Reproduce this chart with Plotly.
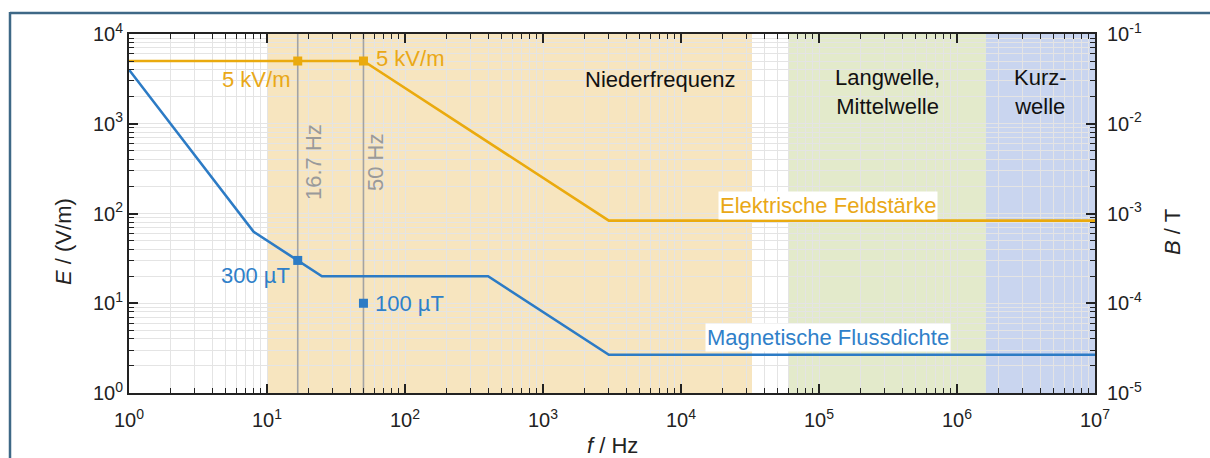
import plotly.graph_objects as go

# ---------------- data ----------------
freq_E = [1, 50, 3000, 1e7]                 # Hz
E_vals = [5000, 5000, 83.3, 83.3]           # V/m
freq_B = [1, 8, 25, 400, 3000, 1e7]         # Hz
B_vals = [4e-2, 6.25e-4, 2e-4, 2e-4, 2.67e-5, 2.67e-5]  # T
mark_freq = [16.7, 50]
mark_E = [5000, 5000]                       # V/m
mark_B = [3e-4, 1e-4]                       # T
ref_freqs = [16.7, 50]
ref_labels = ["16.7 Hz", "50 Hz"]
band_names = ["Niederfrequenz", "Langwelle,<br>Mittelwelle", "Kurz-<br>welle"]
band_start = [10, 6e4, 1.62e6]
band_end = [3.27e4, 1.62e6, 1e7]
E_range = [1, 1e4]
x_exps = [0, 1, 2, 3, 4, 5, 6, 7]
yE_exps = [0, 1, 2, 3, 4]
yB_exps = [-5, -4, -3, -2, -1]

# ---------------- style ----------------
W, H = 1210, 458
L, R, T, B = 129, 1095, 34, 393
FONT = "Liberation Sans, Arial, sans-serif"
ORANGE = "#EAAA0E"
ORANGE_T = "#E9A817"
BLUE = "#2C7BC5"
BLUE_T = "#2F80C9"
GRAY = "#A3A3A3"
GRAY_T = "#9A9A9A"
AX = "#222222"
GRID = "#E4E4E4"
band_colors = ["#F7E5BF", "#E3EACB", "#C9D5EF"]
TXT = 22


def px(x):
    return (x - L) / (R - L)


def py(y):
    return (B - y) / (B - T)


def minor_vals(exps):
    out = []
    for e in exps[:-1]:
        for m in range(2, 10):
            out.append(m * 10.0 ** e)
    return out


fig = go.Figure()

# reference frequency lines
for f in ref_freqs:
    fig.add_trace(go.Scatter(x=[f, f], y=E_range, mode="lines",
                             line=dict(color=GRAY, width=1.6),
                             hoverinfo="skip", showlegend=False))

# electric field limit
fig.add_trace(go.Scatter(x=freq_E, y=E_vals, mode="lines",
                         line=dict(color=ORANGE, width=2.6), showlegend=False))
# magnetic flux density limit (right axis, T)
fig.add_trace(go.Scatter(x=freq_B, y=B_vals, mode="lines", yaxis="y2",
                         line=dict(color=BLUE, width=2.6), showlegend=False))
# markers
fig.add_trace(go.Scatter(x=mark_freq, y=mark_E, mode="markers",
                         marker=dict(symbol="square", size=9, color=ORANGE),
                         showlegend=False))
fig.add_trace(go.Scatter(x=mark_freq, y=mark_B, mode="markers", yaxis="y2",
                         marker=dict(symbol="square", size=9, color=BLUE),
                         showlegend=False))

# frequency bands
for x0, x1, c in zip(band_start, band_end, band_colors):
    fig.add_shape(type="rect", xref="x", yref="paper", x0=x0, x1=x1, y0=0, y1=1,
                  fillcolor=c, line=dict(width=0), layer="below")

# outer frame (top and left)
FR = "#3E6886"
fig.add_shape(type="line", xref="paper", yref="paper", x0=px(10), x1=px(1212),
              y0=py(13), y1=py(13), line=dict(color=FR, width=2.5))
fig.add_shape(type="line", xref="paper", yref="paper", x0=px(10), x1=px(10),
              y0=py(12), y1=py(460), line=dict(color=FR, width=2.5))

ann = []


def add(text, x, y, color, size=TXT, xa="center", angle=0, bg=None):
    d = dict(text=text, x=px(x), y=py(y), xref="paper", yref="paper",
             showarrow=False, xanchor=xa, yanchor="middle", textangle=angle,
             font=dict(family=FONT, size=size, color=color))
    if bg:
        d["bgcolor"] = bg
    ann.append(d)


add("5 kV/m", 292, 80, ORANGE_T, xa="right")
add("5 kV/m", 374, 58, ORANGE_T, xa="left")
add(ref_labels[0], 313, 162, GRAY_T, angle=-90)
add(ref_labels[1], 375, 163, GRAY_T, angle=-90)
add("300 µT", 292, 275, BLUE_T, xa="right")
add("100 µT", 373, 303, BLUE_T, xa="left")
add(band_names[0], 660, 79, "#111111")
add(band_names[1], 887, 92, "#111111")
add(band_names[2], 1040, 92, "#111111")
add("Elektrische Feldstärke", 828, 205, ORANGE_T, bg="white")
add("Magnetische Flussdichte", 828, 337, BLUE_T, bg="white")
add("<i>f</i> / Hz", 612, 445, AX)
add("<i>E</i> / (V/m)", 63, 242, AX, angle=-90)
add("<i>B</i> / T", 1172, 232, AX, angle=-90)

tickfont = dict(family=FONT, size=20, color=AX)

fig.update_layout(
    width=W, height=H,
    margin=dict(l=L, r=W - R, t=T, b=H - B, pad=0),
    paper_bgcolor="white", plot_bgcolor="white",
    showlegend=False,
    annotations=ann,
    xaxis=dict(type="log", range=[0, 7],
               tickmode="array", tickvals=[10.0 ** e for e in x_exps],
               ticktext=["10<sup>%d</sup>" % e for e in x_exps],
               ticks="inside", ticklen=9, tickwidth=1.6, tickcolor=AX,
               showline=True, linecolor=AX, linewidth=2, mirror="ticks",
               showgrid=True, gridcolor=GRID, gridwidth=1,
               tickfont=tickfont, zeroline=False, ticklabelstandoff=8,
               minor=dict(tickmode="array", tickvals=minor_vals(x_exps),
                          ticks="inside", ticklen=5, tickwidth=1.3, tickcolor=AX,
                          showgrid=True, gridcolor=GRID, gridwidth=1)),
    yaxis=dict(type="log", range=[0, 4],
               tickmode="array", tickvals=[10.0 ** e for e in yE_exps],
               ticktext=["10<sup>%d</sup>" % e for e in yE_exps],
               ticks="inside", ticklen=9, tickwidth=1.6, tickcolor=AX,
               showline=True, linecolor=AX, linewidth=2,
               showgrid=True, gridcolor=GRID, gridwidth=1,
               tickfont=tickfont, zeroline=False,
               minor=dict(tickmode="array", tickvals=minor_vals(yE_exps),
                          ticks="inside", ticklen=5, tickwidth=1.3, tickcolor=AX,
                          showgrid=True, gridcolor=GRID, gridwidth=1)),
    yaxis2=dict(type="log", range=[-5, -1], overlaying="y", side="right",
                tickmode="array", tickvals=[10.0 ** e for e in yB_exps],
                ticktext=["10<sup>-%d</sup>" % abs(e) for e in yB_exps],
                ticks="inside", ticklen=9, tickwidth=1.6, tickcolor=AX,
                showline=True, linecolor=AX, linewidth=2,
                showgrid=False, tickfont=tickfont, zeroline=False,
                ticklabelstandoff=6,
                minor=dict(tickmode="array", tickvals=minor_vals(yB_exps),
                           ticks="inside", ticklen=5, tickwidth=1.3, tickcolor=AX,
                           showgrid=False)),
)

fig.write_html(
    "out.html",
    config={"displayModeBar": False},
    post_script="document.body.style.margin='0';"
                "document.documentElement.style.overflow='hidden';"
                "document.body.style.overflow='hidden';",
)
